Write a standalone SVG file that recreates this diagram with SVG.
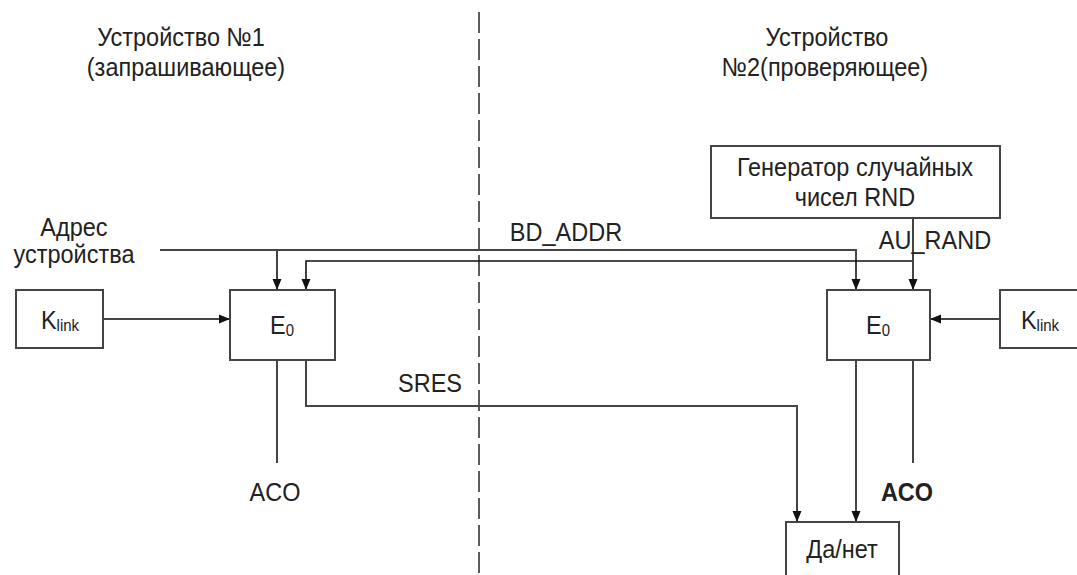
<svg xmlns="http://www.w3.org/2000/svg" width="1077" height="575" viewBox="0 0 1077 575">
<style>
text{font-family:"Liberation Sans",Arial,sans-serif;font-size:23.5px;fill:#222;text-anchor:middle;dominant-baseline:central;transform-box:fill-box;transform-origin:center;transform:scaleY(1.12)}
.box{fill:#fff;stroke:#444;stroke-width:2}
.ln{fill:none;stroke:#444;stroke-width:2}
.lb{fill:none;stroke:#111;stroke-width:1.6}
.sub{font-size:15px}
</style>
<defs>
<marker id="ah" markerUnits="userSpaceOnUse" markerWidth="12" markerHeight="10" refX="11" refY="5" orient="auto">
<path d="M0,0.5 L11,5 L0,9.5 z" fill="#111"/>
</marker>
</defs>
<rect width="1077" height="575" fill="#fff"/>
<line x1="479" y1="12" x2="479" y2="575" stroke="#333" stroke-width="1.6" stroke-dasharray="21,6"/>
<g id="headers">
<text x="181" y="37">Устройство №1</text>
<text x="186" y="67">(запрашивающее)</text>
<text x="827" y="37">Устройство</text>
<text x="825" y="67">№2(проверяющее)</text>
</g>
<g id="connectors">
<path class="ln" d="M160,250 H856 V290" marker-end="url(#ah)"/>
<path class="ln" d="M277,250 V290" marker-end="url(#ah)"/>
<path class="lb" d="M913,261 H306 V290" marker-end="url(#ah)"/>
<path class="ln" d="M913,218 V290" marker-end="url(#ah)"/>
<path class="ln" d="M103,319 H230" marker-end="url(#ah)"/>
<path class="ln" d="M1000,319 H930" marker-end="url(#ah)"/>
<path class="ln" d="M306,360 V406 H797 V522" marker-end="url(#ah)"/>
<path class="ln" d="M856,360 V522" marker-end="url(#ah)"/>
<path class="ln" d="M277,360 V463"/>
<path class="ln" d="M913,360 V463"/>
<text x="74" y="227">Адрес</text>
<text x="74" y="254">устройства</text>
<text x="566" y="232">BD_ADDR</text>
<text x="935" y="240">AU_RAND</text>
<text x="430" y="383">SRES</text>
<text x="275" y="492">ACO</text>
<text x="907" y="492" style="font-weight:bold">ACO</text>
</g>
<g id="klink1">
<rect class="box" x="16" y="290" width="87" height="58"/>
<text x="60" y="320">K<tspan class="sub" dy="4">link</tspan></text>
</g>
<g id="e0_1">
<rect class="box" x="230" y="290" width="105" height="70"/>
<text x="282" y="325">E<tspan class="sub" dy="4">0</tspan></text>
</g>
<g id="generator">
<rect class="box" x="711" y="146" width="289" height="72"/>
<text x="855" y="167">Генератор случайных</text>
<text x="855" y="197">чисел RND</text>
</g>
<g id="e0_2">
<rect class="box" x="827" y="290" width="103" height="70"/>
<text x="878" y="325">E<tspan class="sub" dy="4">0</tspan></text>
</g>
<g id="klink2">
<rect class="box" x="1000" y="290" width="80" height="58"/>
<text x="1040" y="320">K<tspan class="sub" dy="4">link</tspan></text>
</g>
<g id="yesno">
<rect class="box" x="786" y="522" width="113" height="60"/>
<text x="842" y="549">Да/нет</text>
</g>
</svg>
